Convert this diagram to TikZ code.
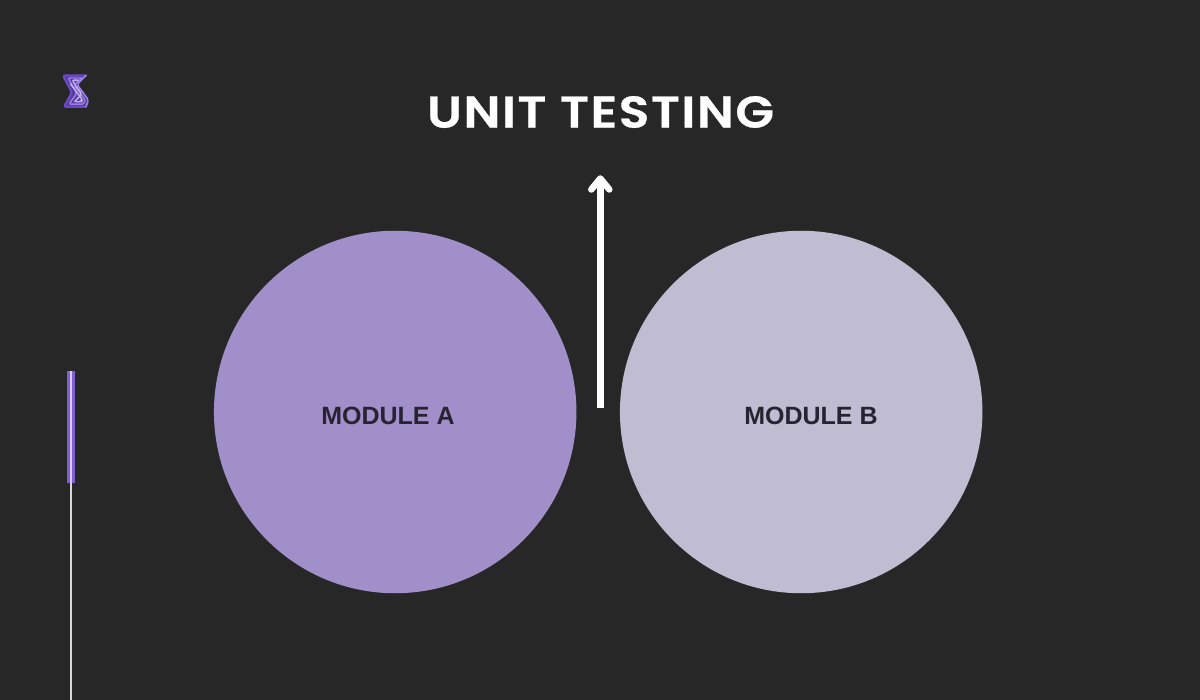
\documentclass[tikz,border=0pt]{standalone}
\usepackage{fontspec}
\setmainfont{Poppins}
\newfontfamily\labelfont{Liberation Sans}
\newfontfamily\titlefont[FakeStretch=1.13,LetterSpace=3.4,FakeBold=0.6]{Poppins SemiBold}
\definecolor{bgdark}{HTML}{272727}
\definecolor{modA}{HTML}{A08FC9}
\definecolor{modB}{HTML}{C0BCD1}
\definecolor{inkdark}{HTML}{272431}
\definecolor{barpurple}{HTML}{7F5FD6}
\definecolor{barlight}{HTML}{D9CDF7}
\definecolor{logobase}{HTML}{6A48C8}
\definecolor{logolight}{HTML}{C4B0F5}
\definecolor{logomid}{HTML}{9A80E8}
\tikzset{
  x=1pt,y=-1pt,
  modcircle/.style={circle,minimum size=362.5pt,inner sep=0pt},
  modlabel/.style={text=inkdark,font=\labelfont\bfseries\fontsize{25}{28}\selectfont},
  bigarrow/.style={draw=white,line width=6.5pt,line cap=round,line join=round},
  logoline/.style={line width=1.4pt,line cap=round,line join=round,rounded corners=2pt}
}
\begin{document}
\begin{tikzpicture}
\path[fill=bgdark,use as bounding box] (0,0) rectangle (1200,700);
% logo
\fill[logobase!70!bgdark,rounded corners=2pt] (87,75) -- (63,75) -- (72,92.5) -- (63,107) -- (86,107) -- (89,100) -- (77,84.5) -- cycle;
\draw[logoline,draw=logobase,line width=2.2pt] (86,75.5) -- (63,75.5) -- (72,92.5) -- (64,106.8) -- (86,106.8);
\draw[logoline,draw=logomid,line width=1.6pt] (86,75.5) -- (77,84.5) -- (88.5,100) -- (86,106.8);
\draw[logoline,draw=logomid] (82,78) -- (68,78) -- (77,93) -- (69,104.2) -- (84,104.2) -- (85.5,100.5) -- (74,85) -- (82,78);
\draw[logoline,draw=logolight] (78,80.2) -- (72,80.2) -- (82,94.5) -- (74,101.8) -- (81.5,101.8) -- (82.5,100) -- (70.5,84);
% title
\node (title) at (600.5,112) [text=white,font=\titlefont\fontsize{44.5}{50}\selectfont,inner sep=0pt] {UNIT TESTING};
% modules
\node (a) at (395.2,412) [modcircle,fill=modA] {};
\node (b) at (801.2,412) [modcircle,fill=modB] {};
\node (la) at (388,416) [modlabel,inner sep=0pt] {MODULE A};
\node (lb) at (811,416) [modlabel,inner sep=0pt] {MODULE B};
% arrow
\coordinate (arrowbase) at (600.3,408);
\coordinate (arrowtip) at (600.3,178.5);
\coordinate (arrowl) at (591.3,189.5);
\coordinate (arrowr) at (609.3,189.5);
\draw[draw=white,line width=6.5pt] (arrowbase) -- (arrowtip);
\draw[bigarrow] (arrowl) -- (arrowtip) -- (arrowr);
% side bar
\coordinate (stemtop) at (71.2,483);
\coordinate (stembot) at (71.2,700);
\draw[draw=white!85!black,line width=1.6pt] (stemtop) -- (stembot);
\fill[barpurple] (67.3,371) rectangle (75,483);
\fill[barlight] (70.2,371) rectangle (72,483);
\end{tikzpicture}
\end{document}
